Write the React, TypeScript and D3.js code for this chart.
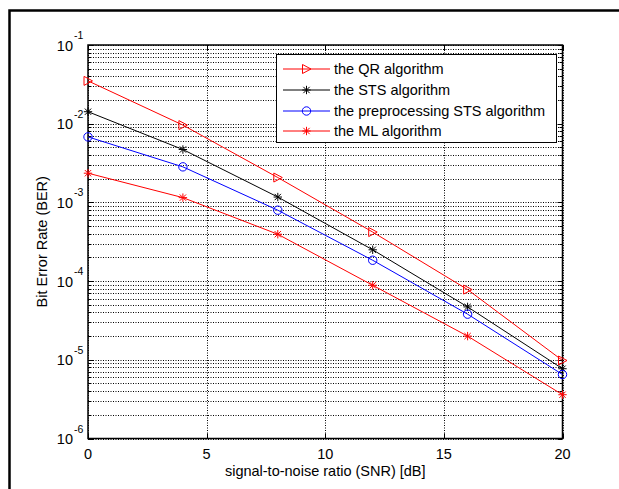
import React, { useEffect, useRef } from "react";
import * as d3 from "d3";

// SNR values (dB)
const snr = [0, 4, 8, 12, 16, 20];

// BER curves
const berQR = [3.5e-2, 9.6e-3, 2.07e-3, 4.2e-4, 7.8e-5, 9.8e-6];
const berSTS = [1.42e-2, 4.7e-3, 1.17e-3, 2.5e-4, 4.7e-5, 7.7e-6];
const berPre = [6.8e-3, 2.83e-3, 7.96e-4, 1.84e-4, 3.8e-5, 6.5e-6];
const berML = [2.35e-3, 1.15e-3, 3.94e-4, 8.85e-5, 2.0e-5, 3.6e-6];

const seriesNames = [
  "the QR algorithm",
  "the STS algorithm",
  "the preprocessing STS algorithm",
  "the ML algorithm",
];
const seriesColors = ["#ff0000", "#000000", "#0000ff", "#ff0000"];
const seriesMarkers = ["triangle", "star", "circle", "star"];

const xTicks = [0, 5, 10, 15, 20];
const yExponents = [-6, -5, -4, -3, -2, -1];

const W = 619;
const H = 489;
const FONT = "'Liberation Sans', Arial, Helvetica, sans-serif";
const FS = 14.5;

function drawMarker(g: any, kind: string, x: number, y: number, color: string) {
  if (kind === "circle") {
    g.append("circle")
      .attr("cx", x)
      .attr("cy", y)
      .attr("r", 4.2)
      .attr("fill", "none")
      .attr("stroke", color)
      .attr("stroke-width", 1);
  } else if (kind === "triangle") {
    g.append("path")
      .attr("d", `M${x - 4},${y - 4.5}L${x + 4.5},${y}L${x - 4},${y + 4.5}Z`)
      .attr("fill", "none")
      .attr("stroke", color)
      .attr("stroke-width", 1);
  } else {
    const r = 4.2;
    const d = r * 0.75;
    g.append("path")
      .attr(
        "d",
        `M${x - r},${y}L${x + r},${y}M${x},${y - r}L${x},${y + r}` +
          `M${x - d},${y - d}L${x + d},${y + d}M${x - d},${y + d}L${x + d},${y - d}`
      )
      .attr("fill", "none")
      .attr("stroke", color)
      .attr("stroke-width", 1);
  }
}

function BerChart() {
  const ref = useRef<SVGSVGElement>(null);

  useEffect(() => {
    const svg = d3.select(ref.current);
    svg.selectAll("*").remove();

    const left = 88;
    const right = 562.5;
    const top = 45;
    const bottom = 438.5;

    const x = d3.scaleLinear().domain([0, 20]).range([left, right]);
    const y = d3.scaleLog().domain([1e-6, 1e-1]).range([bottom, top]);

    svg.append("rect").attr("width", W).attr("height", H).attr("fill", "#fff");

    // outer frame (right and bottom sides fall outside the picture)
    svg
      .append("rect")
      .attr("x", 9.5)
      .attr("y", 10.5)
      .attr("width", 700)
      .attr("height", 600)
      .attr("fill", "none")
      .attr("stroke", "#000")
      .attr("stroke-width", 2.5);

    // minor + major grid for log axis
    const logLines: number[] = [];
    for (let e = -6; e < -1; e++) {
      for (let m = 1; m <= 9; m++) logLines.push(m * Math.pow(10, e));
    }
    logLines.push(1e-1);

    const grid = svg.append("g");
    logLines.forEach((v) => {
      const yy = Math.round(y(v)) + 0.5;
      grid
        .append("line")
        .attr("x1", left)
        .attr("x2", right)
        .attr("y1", yy)
        .attr("y2", yy)
        .attr("stroke", "#000")
        .attr("stroke-width", 1)
        .attr("stroke-dasharray", "1,1.5");
    });
    xTicks.forEach((t) => {
      const xx = Math.round(x(t)) + 0.5;
      grid
        .append("line")
        .attr("x1", xx)
        .attr("x2", xx)
        .attr("y1", top)
        .attr("y2", bottom)
        .attr("stroke", "#000")
        .attr("stroke-width", 1)
        .attr("stroke-dasharray", "1,1.5");
    });

    // ticks
    const ticks = svg.append("g").attr("stroke", "#000").attr("stroke-width", 1);
    logLines.forEach((v) => {
      const isMajor = Math.abs(Math.log10(v) - Math.round(Math.log10(v))) < 1e-9;
      const len = isMajor ? 5 : 3;
      const yy = Math.round(y(v)) + 0.5;
      ticks.append("line").attr("x1", left).attr("x2", left + len).attr("y1", yy).attr("y2", yy);
      ticks.append("line").attr("x1", right - len).attr("x2", right).attr("y1", yy).attr("y2", yy);
    });
    xTicks.forEach((t) => {
      const xx = Math.round(x(t)) + 0.5;
      ticks.append("line").attr("x1", xx).attr("x2", xx).attr("y1", bottom).attr("y2", bottom - 5);
      ticks.append("line").attr("x1", xx).attr("x2", xx).attr("y1", top).attr("y2", top + 5);
    });

    // plot box
    svg
      .append("rect")
      .attr("x", left)
      .attr("y", top)
      .attr("width", right - left)
      .attr("height", bottom - top)
      .attr("fill", "none")
      .attr("stroke", "#000")
      .attr("stroke-width", 1.5);

    // series
    const allSeries = [berQR, berSTS, berPre, berML];
    const line = d3
      .line<[number, number]>()
      .x((d) => x(d[0]))
      .y((d) => y(d[1]));

    allSeries.forEach((vals, i) => {
      const pts = snr.map((s, j) => [s, vals[j]] as [number, number]);
      svg
        .append("path")
        .datum(pts)
        .attr("fill", "none")
        .attr("stroke", seriesColors[i])
        .attr("stroke-width", 1)
        .attr("d", line);
      const mg = svg.append("g");
      pts.forEach((p) => drawMarker(mg, seriesMarkers[i], x(p[0]), y(p[1]), seriesColors[i]));
    });

    // x tick labels
    xTicks.forEach((t) => {
      svg
        .append("text")
        .attr("x", x(t))
        .attr("y", 459)
        .attr("text-anchor", "middle")
        .attr("font-family", FONT)
        .attr("font-size", FS)
        .text(t);
    });

    // y tick labels (10^e)
    yExponents.forEach((e) => {
      const yy = y(Math.pow(10, e));
      svg
        .append("text")
        .attr("x", 73)
        .attr("y", yy + 5.5)
        .attr("text-anchor", "end")
        .attr("font-family", FONT)
        .attr("font-size", FS)
        .text("10");
      svg
        .append("text")
        .attr("x", 74)
        .attr("y", yy - 6)
        .attr("font-family", FONT)
        .attr("font-size", 10.5)
        .text(String(e));
    });

    // axis labels
    svg
      .append("text")
      .attr("x", (left + right) / 2)
      .attr("y", 476)
      .attr("text-anchor", "middle")
      .attr("font-family", FONT)
      .attr("font-size", FS)
      .text("signal-to-noise ratio (SNR) [dB]");

    svg
      .append("text")
      .attr("transform", `translate(46.5, ${(top + bottom) / 2}) rotate(-90)`)
      .attr("text-anchor", "middle")
      .attr("font-family", FONT)
      .attr("font-size", FS)
      .text("Bit Error Rate (BER)");

    // legend
    const lg = svg.append("g");
    lg.append("rect")
      .attr("x", 276.5)
      .attr("y", 54.5)
      .attr("width", 280)
      .attr("height", 88)
      .attr("fill", "#fff")
      .attr("stroke", "#000")
      .attr("stroke-width", 1);
    const rowY = [69, 90, 111, 131];
    seriesNames.forEach((name, i) => {
      const ry = rowY[i];
      lg.append("line")
        .attr("x1", 283)
        .attr("x2", 330)
        .attr("y1", ry)
        .attr("y2", ry)
        .attr("stroke", seriesColors[i])
        .attr("stroke-width", 1);
      drawMarker(lg, seriesMarkers[i], 306.5, ry, seriesColors[i]);
      lg.append("text")
        .attr("x", 334)
        .attr("y", ry + 5)
        .attr("font-family", FONT)
        .attr("font-size", FS)
        .text(name);
    });
  }, []);

  return (
    <svg
      ref={ref}
      width={W}
      height={H}
      style={{ position: "absolute", left: 0, top: 0 }}
    ></svg>
  );
}

export default function App() {
  return <BerChart />;
}
